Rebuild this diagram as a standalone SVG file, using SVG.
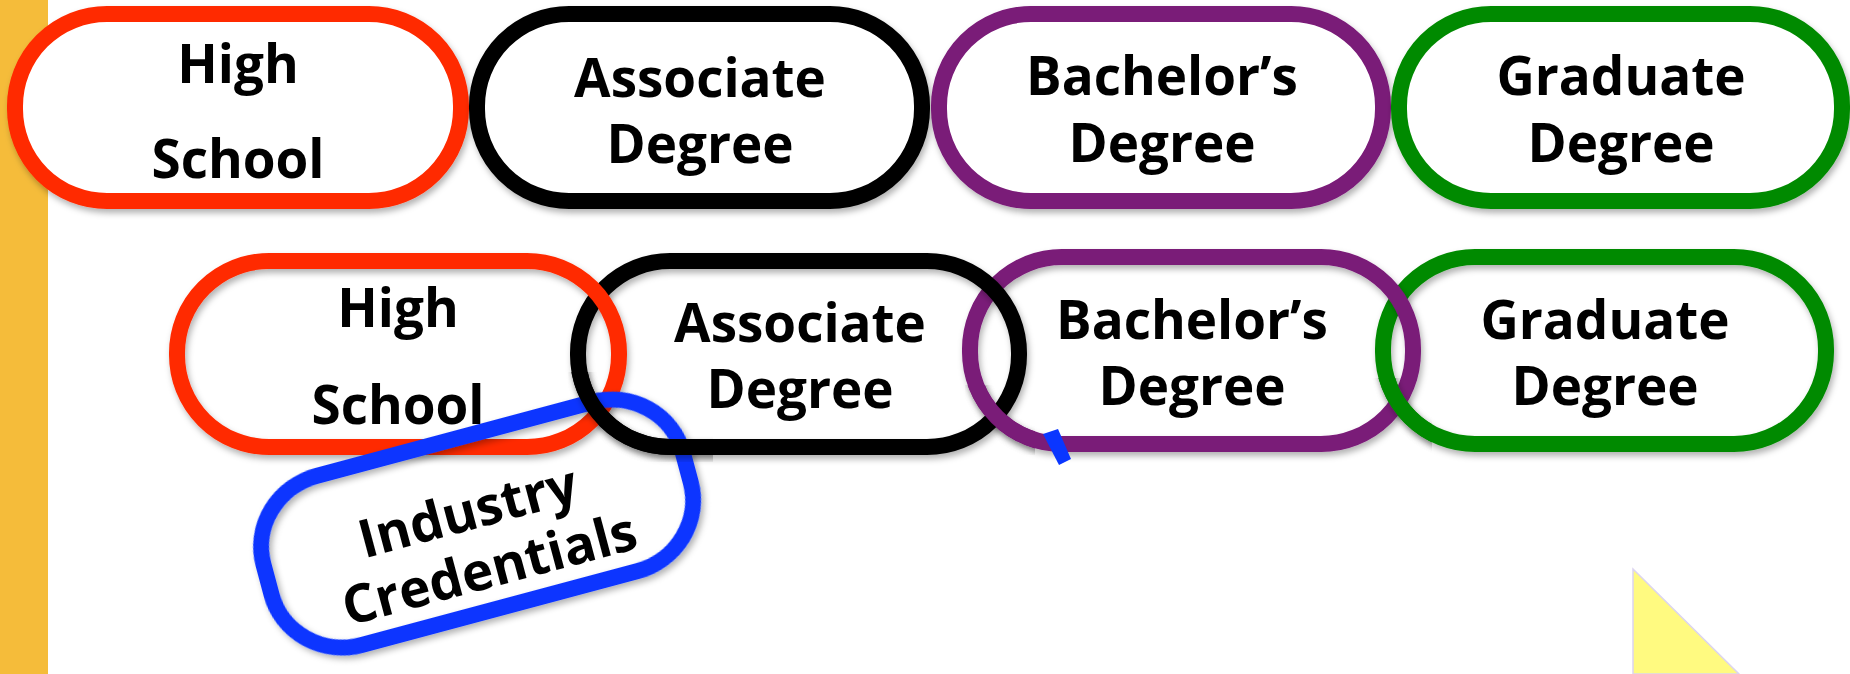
<svg xmlns="http://www.w3.org/2000/svg" width="1850" height="674" viewBox="0 0 1850 674">
  <defs>
    <filter id="sh" x="-10%" y="-10%" width="120%" height="130%">
      <feDropShadow dx="2" dy="4" stdDeviation="3" flood-color="#000" flood-opacity="0.3"/>
    </filter>
    <clipPath id="cBlk"><rect x="568" y="372" width="145" height="90"/></clipPath>
    <clipPath id="cPur"><rect x="965" y="385" width="70" height="70"/></clipPath>
    <clipPath id="cGrn"><rect x="1372" y="378" width="60" height="75"/></clipPath>
  </defs>
  <style>
    .pill { stroke-width: 16; filter: url(#sh); }
    .top { fill: #fff; }
    .row2 { fill: none; }
    .lbl { font-family: "Open Sans", "Noto Sans", "Liberation Sans", sans-serif; font-weight: bold; font-size: 53px; fill: #000; text-anchor: middle; }
    .red { stroke: #FF2A00; }
    .blk { stroke: #000; }
    .pur { stroke: #7A1A78; }
    .grn { stroke: #058A05; }
    .blu { stroke: #0A36FF; fill: none; }
  </style>
  <rect x="0" y="0" width="1850" height="674" fill="#fff"/>
  <rect id="bar" x="0" y="0" width="48" height="674" fill="#F5BC3A"/>

  <g id="hs1">
    <rect class="pill top red" x="15" y="14" width="446" height="187" rx="92" ry="92"/>
    <text class="lbl" x="238" y="83">High</text>
    <text class="lbl" x="238" y="178">School</text>
  </g>
  <g id="ad1">
    <rect class="pill top blk" x="477" y="14" width="445" height="187" rx="92" ry="92"/>
    <text class="lbl" x="700" y="97">Associate</text>
    <text class="lbl" x="700" y="163">Degree</text>
  </g>
  <g id="bd1">
    <rect class="pill top pur" x="939" y="14" width="444" height="187" rx="92" ry="92"/>
    <text class="lbl" x="1162" y="95">Bachelor’s</text>
    <text class="lbl" x="1162" y="162">Degree</text>
  </g>
  <g id="gd1">
    <rect class="pill top grn" x="1399" y="14" width="443" height="187" rx="92" ry="92"/>
    <text class="lbl" x="1621" y="95">Graduate</text>
    <text class="lbl" x="1621" y="162">Degree</text>
  </g>

  <g id="gd2">
    <rect id="gd2r" class="pill row2 grn" x="1383" y="257" width="443" height="187" rx="92" ry="92"/>
    <text class="lbl" x="1605" y="339">Graduate</text>
    <text class="lbl" x="1605" y="405">Degree</text>
  </g>
  <g id="bd2">
    <rect id="bd2r" class="pill row2 pur" x="970" y="257" width="443" height="187" rx="92" ry="92"/>
    <text class="lbl" x="1192" y="339">Bachelor’s</text>
    <text class="lbl" x="1192" y="405">Degree</text>
  </g>
  <g id="ad2">
    <rect id="ad2r" class="pill row2 blk" x="578" y="261" width="441" height="186" rx="92" ry="92"/>
    <text class="lbl" x="800" y="342">Associate</text>
    <text class="lbl" x="800" y="408">Degree</text>
  </g>
  <g id="hs2">
    <rect class="pill row2 red" x="177" y="261" width="442" height="186" rx="92" ry="92"/>
    <text class="lbl" x="398" y="327">High</text>
    <text class="lbl" x="398" y="424">School</text>
  </g>
  <g id="ic">
    <rect class="pill blu" x="-217" y="-87" width="434" height="175" rx="75" ry="72" transform="translate(477,523) rotate(-15)"/>
    <g transform="translate(477,523) rotate(-15)">
      <text class="lbl" x="-6" y="5">Industry</text>
      <text class="lbl" x="0" y="66">Credentials</text>
    </g>
  </g>

  <g id="links">
    <use href="#ad2r" clip-path="url(#cBlk)"/>
    <use href="#bd2r" clip-path="url(#cPur)"/>
    <use href="#gd2r" clip-path="url(#cGrn)"/>
  </g>

  <g id="connectors">
    <polygon points="1043,434 1058,429 1071,459 1059,465" fill="#0A36FF"/>
  </g>

  <polygon id="tri" points="1633,569 1633,674 1739,674" fill="#FFFA80" stroke="#DCD4F0" stroke-width="1.5"/>
</svg>
